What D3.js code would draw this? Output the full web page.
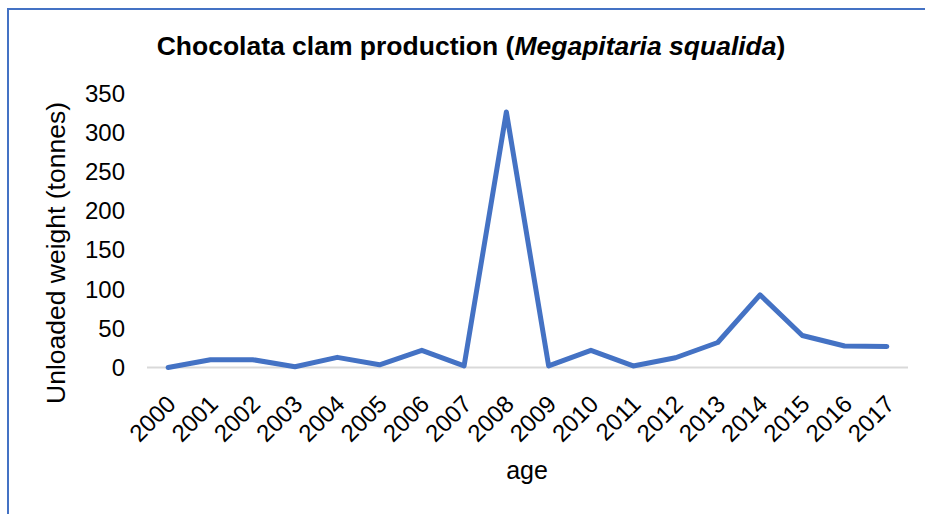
<!DOCTYPE html>
<html>
<head>
<meta charset="utf-8">
<script src="https://cdn.jsdelivr.net/npm/d3@7"></script>
<style>
  body { margin: 0; background: #fff; }
  text { font-family: "Liberation Sans", Arial, sans-serif; fill: #000; }
</style>
</head>
<body>
<svg id="chart" width="925" height="514"></svg>
<script>
// Data
var years = ["2000", "2001", "2002", "2003", "2004", "2005", "2006", "2007", "2008",
             "2009", "2010", "2011", "2012", "2013", "2014", "2015", "2016", "2017"];
var tonnes = [0, 10, 10, 1, 13, 3.5, 22, 2, 327, 2, 22, 2, 12.5, 32, 93, 41, 27.5, 27];
var yTicks = [0, 50, 100, 150, 200, 250, 300, 350];

var svg = d3.select("#chart"),
    margin = {top: 94, right: 17, bottom: 146, left: 147},
    width = +svg.attr("width") - margin.left - margin.right,
    height = 367.5 - margin.top;

// Outer border
svg.append("rect")
    .attr("x", 8)
    .attr("y", 9)
    .attr("width", 940)
    .attr("height", 530)
    .attr("fill", "none")
    .attr("stroke", "#4472C4")
    .attr("stroke-width", 2);

var g = svg.append("g")
    .attr("transform", "translate(" + margin.left + "," + margin.top + ")");

var x = d3.scaleBand().domain(years).range([0, width]);
var y = d3.scaleLinear().domain([0, 350]).range([height, 0]);

// Title
svg.append("text")
    .attr("x", 471)
    .attr("y", 55)
    .style("text-anchor", "middle")
    .style("font-size", "26.5px")
    .style("font-weight", "bold")
    .call(function(t) {
        t.append("tspan").text("Chocolata clam production (");
        t.append("tspan").style("font-style", "italic").text("Megapitaria squalida");
        t.append("tspan").text(")");
    });

// zero baseline
g.append("line")
    .attr("x1", 0)
    .attr("x2", width)
    .attr("y1", y(0))
    .attr("y2", y(0))
    .attr("stroke", "#d9d9d9")
    .attr("stroke-width", 2);

// y axis labels
var yAxis = g.append("g")
    .call(d3.axisLeft(y).tickValues(yTicks).tickSize(0).tickPadding(22));
yAxis.select(".domain").remove();
yAxis.selectAll("text")
    .style("font-size", "24px")
    .style("font-family", "'Liberation Sans', Arial, sans-serif");

// x axis labels, rotated
var xAxis = g.append("g")
    .attr("transform", "translate(0," + height + ")")
    .call(d3.axisBottom(x).tickSize(0).tickPadding(0));
xAxis.select(".domain").remove();
xAxis.selectAll("text")
    .style("font-size", "24px")
    .style("font-family", "'Liberation Sans', Arial, sans-serif")
    .style("text-anchor", "end")
    .attr("dy", "0")
    .attr("transform", "translate(9,38) rotate(-45)");

// axis titles
svg.append("text")
    .attr("transform", "rotate(-90)")
    .attr("x", -253)
    .attr("y", 65)
    .style("text-anchor", "middle")
    .style("font-size", "26.5px")
    .text("Unloaded weight (tonnes)");

svg.append("text")
    .attr("x", 527)
    .attr("y", 479)
    .style("text-anchor", "middle")
    .style("font-size", "25px")
    .text("age");

// line
var line = d3.line()
    .x(function(d, i) { return x(years[i]) + x.bandwidth() / 2; })
    .y(function(d) { return y(d); });

g.append("path")
    .datum(tonnes)
    .attr("d", line)
    .attr("fill", "none")
    .attr("stroke", "#4472C4")
    .attr("stroke-width", 5)
    .attr("stroke-linejoin", "round")
    .attr("stroke-linecap", "round");
</script>
</body>
</html>
